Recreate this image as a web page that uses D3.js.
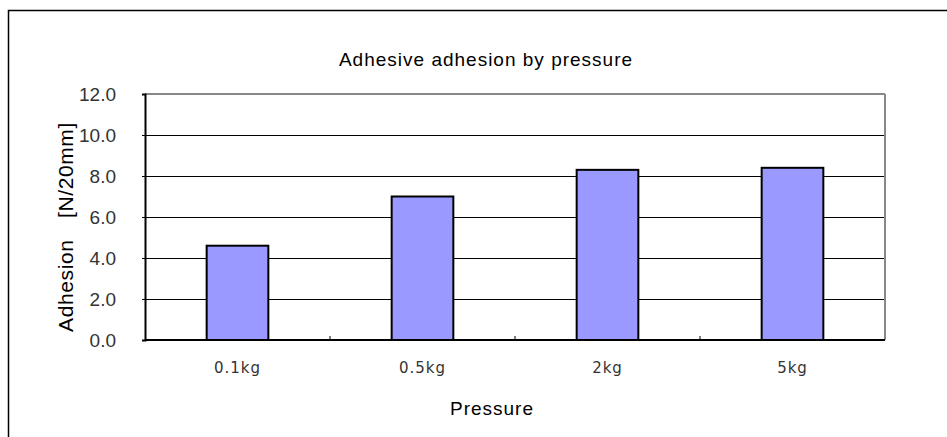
<!DOCTYPE html>
<html><head><meta charset="utf-8">
<script src="https://cdn.jsdelivr.net/npm/d3@7/dist/d3.min.js"></script>
<style>body{margin:0;background:#fff}svg{display:block}</style>
</head><body>
<svg id="c" width="947" height="437"></svg>
<script>
const categories = ["0.1kg", "0.5kg", "2kg", "5kg"];
const values = [4.6, 7.0, 8.3, 8.4];
const yTicks = [0, 2, 4, 6, 8, 10, 12];
const title = "Adhesive adhesion by pressure";
const xTitle = "Pressure";
const yTitle = "Adhesion\u3000[N/20mm]";

const svg = d3.select("#c");
const L = 145, R = 885, T = 94, B = 340;
const SANS = "Liberation Sans, Arial, sans-serif";

svg.append("rect").attr("x", 8.5).attr("y", 10.5).attr("width", 1200).attr("height", 1200)
  .attr("fill", "none").attr("stroke", "#000").attr("stroke-width", 1.5);

const x = d3.scaleBand().domain(categories).range([L, R]).paddingInner(2/3).paddingOuter(1/3);
const y = d3.scaleLinear().domain([0, 12]).range([B, T]);

// gridlines
svg.append("g").selectAll("line").data(yTicks.filter(d => d > 0 && d < 12)).join("line")
  .attr("x1", L).attr("x2", R).attr("y1", d => y(d)).attr("y2", d => y(d))
  .attr("stroke", "#000").attr("stroke-width", 1).attr("shape-rendering", "crispEdges");

// frame top/right gray
svg.append("line").attr("x1", L).attr("x2", R).attr("y1", T).attr("y2", T)
  .attr("stroke", "#888").attr("stroke-width", 2);
svg.append("line").attr("x1", R).attr("x2", R).attr("y1", T).attr("y2", B)
  .attr("stroke", "#888").attr("stroke-width", 2);

// bars
svg.append("g").selectAll("rect").data(values).join("rect")
  .attr("x", (d, i) => x(categories[i]))
  .attr("y", d => y(d))
  .attr("width", x.bandwidth())
  .attr("height", d => B - y(d))
  .attr("fill", "#9999ff").attr("stroke", "#000").attr("stroke-width", 2);

// y axis
const yAxis = d3.axisLeft(y).tickValues(yTicks).tickFormat(d3.format(".1f")).tickSize(3).tickPadding(26);
const ga = svg.append("g").attr("transform", `translate(${L},0)`).call(yAxis);
ga.select(".domain").attr("stroke", "#000").attr("stroke-width", 2);
ga.selectAll(".tick line").attr("stroke", "#000");
ga.selectAll("text").attr("font-family", SANS).attr("font-size", 19).attr("fill", "#333");

// x axis
const xAxis = d3.axisBottom(x).tickSize(0).tickPadding(0);
const gx = svg.append("g").attr("transform", `translate(0,${B})`).call(xAxis);
gx.select(".domain").attr("stroke", "#000").attr("stroke-width", 2).attr("d", `M${L},0H${R}`);
gx.selectAll("text").attr("font-family", "DejaVu Sans, sans-serif").attr("font-size", 15)
  .attr("fill", "#333").attr("letter-spacing", "1").attr("dy", null).attr("y", 33);

// category boundary ticks (inward)
const bounds = categories.slice(1).map(c => x(c) - x.step() * x.paddingInner() / 2);
svg.append("g").selectAll("line").data(bounds).join("line")
  .attr("x1", d => d).attr("x2", d => d).attr("y1", B).attr("y2", B - 4)
  .attr("stroke", "#000").attr("stroke-width", 1);

// titles
svg.append("text").attr("x", 486).attr("y", 66).attr("text-anchor", "middle")
  .attr("font-family", SANS).attr("font-size", 19).attr("letter-spacing", "1").text(title);
svg.append("text").attr("x", 492).attr("y", 415).attr("text-anchor", "middle")
  .attr("font-family", SANS).attr("font-size", 19).attr("letter-spacing", "1").text(xTitle);
svg.append("text").attr("transform", "translate(73,227) rotate(-90)").attr("text-anchor", "middle")
  .attr("font-family", SANS).attr("font-size", 21).attr("letter-spacing", "0.6").text(yTitle);
</script>
</body></html>
